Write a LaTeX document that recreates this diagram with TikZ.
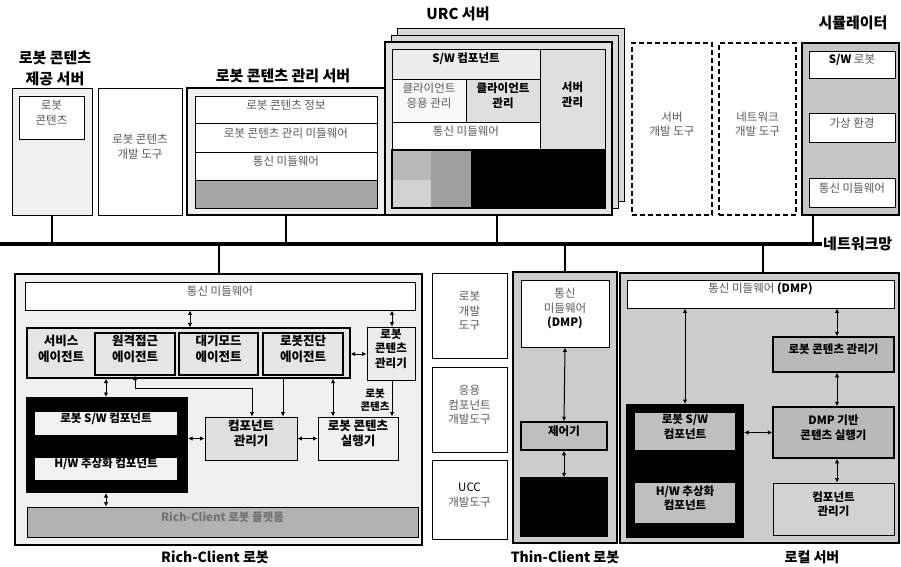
\documentclass[tikz,border=0pt]{standalone}
\usepackage{fontspec}
\setmainfont{Noto Sans CJK KR}
\usetikzlibrary{fit,arrows.meta}
\begin{document}
\begin{tikzpicture}[x=1pt,y=-1pt,
  bx/.style={draw, line width=0.9pt, inner sep=0pt, align=center, font=\fontsize{11.5}{14.5}\selectfont, text=black!65},
  bbx/.style={bx, font=\bfseries\fontsize{11.5}{14.5}\selectfont, text=black},
  agt/.style={font=\bfseries\fontsize{12.5}{15.5}\selectfont},
  ttl/.style={font=\bfseries\fontsize{15}{21}\selectfont, align=center},
  ttls/.style={font=\bfseries\fontsize{14}{17}\selectfont, align=center},
  dsh/.style={draw, line width=1.4pt, dash pattern=on 5pt off 3pt, inner sep=0pt, align=center, font=\fontsize{11.5}{14.5}\selectfont, text=black!65},
  tip/.tip={Latex[length=4.5pt,width=4.5pt]},
  dar/.style={{tip}-{tip}, line width=1pt},
  sar/.style={-{tip}, line width=1pt},
  drop/.style={line width=2pt},
  blk/.style={draw, fill=black, line width=1.2pt, inner sep=0pt},
]
\useasboundingbox (0,0) rectangle (901,566);

% ---------------- titles ----------------
\node[ttl] (t1) at (55,68) {로봇 콘텐츠\\제공 서버};
\node[ttl] (t2) at (283,76) {로봇 콘텐츠 관리 서버};
\node[ttl] (t3) at (458,14) {URC 서버};
\node[ttl] (t4) at (853,23) {시뮬레이터};
\node[ttl, anchor=west, inner sep=1pt] (t5) at (822,244) {네트워크망};
\node[ttls] (t6) at (215,557) {Rich-Client 로봇};
\node[ttls] (t7) at (565,557) {Thin-Client 로봇};
\node[ttls] (t8) at (812,557) {로컬 서버};

% ---------------- network ----------------
\coordinate (netL) at (0,244);
\draw[line width=4pt] (netL) -- (t5.west);

% ---------------- top row ----------------
\node[bx, fill=gray!12, fit={(12,88) (92,215)}] (prov) {};
\node[bx, fill=white, fit={(19,96) (84,139)}] (provc) {로봇\\콘텐츠};
\node[bx, fill=white, fit={(98,88) (182,215)}] (devt) {로봇 콘텐츠\\개발 도구};

\node[bx, fill=gray!12, line width=1.2pt, fit={(187,88) (385,215)}] (mgr) {};
\node[bx, fill=white, fit={(195,96) (377,123)}] (mgr1) {로봇 콘텐츠 정보};
\node[bx, fill=white, fit={(195,123) (377,152)}] (mgr2) {로봇 콘텐츠 관리 미들웨어};
\node[bx, fill=white, fit={(195,152) (377,180)}] (mgr3) {통신 미들웨어};
\node[bx, fill=gray!70, fit={(195,180) (377,208)}] (mgr4) {};

% URC server (stacked pages)
\node[bx, fill=gray!30, fit={(397,28) (624,201)}] (p3) {};
\node[bx, fill=gray!30, fit={(391,35) (618,208)}] (p2) {};
\node[bx, fill=gray!22, line width=1.2pt, fit={(385,42) (612,215)}] (p1) {};
\node[bbx, fill=gray!15, fit={(392,49) (540,79)}] (urcsw) {S/W 컴포넌트};
\node[bbx, fill=gray!25, fit={(540,49) (605,150)}] (urcsrv) {서버\\관리};
\node[bx, fill=gray!5, fit={(392,79) (466,122)}] (urcca) {클라이언트\\응용 관리};
\node[bbx, fill=gray!25, fit={(466,79) (540,122)}] (urccm) {클라이언트\\관리};
\node[bx, fill=white, fit={(392,122) (540,150)}] (urcmw) {통신 미들웨어};
\node[blk, fit={(392,150) (605,208)}] (urcdk) {};
\node[inner sep=0pt, fill=gray!55, fit={(393,151) (431,180)}] (urcg1) {};
\node[inner sep=0pt, fill=gray!35, fit={(393,180) (431,207)}] (urcg2) {};
\node[inner sep=0pt, fill=gray!75, fit={(431,151) (471,207)}] (urcg3) {};

% dashed tool boxes
\node[dsh, fit={(632,43) (712,215)}] (ds1) {서버\\개발 도구};
\node[dsh, fit={(719,43) (796,215)}] (ds2) {네트워크\\개발 도구};

% simulator
\node[bx, fill=gray!45, line width=1.2pt, fit={(802,43) (899,215)}] (sim) {};
\node[bx, fill=white, fit={(809,51) (895,78)}] (sim1) {{\bfseries\color{black}S/W} 로봇};
\node[bx, fill=white, fit={(809,113) (895,142)}] (sim2) {가상 환경};
\node[bx, fill=white, fit={(809,178) (895,207)}] (sim3) {통신 미들웨어};

% drops to network
\coordinate (xurc) at (497,0);
\coordinate (xsim) at (813,0);
\draw[drop] (prov.south) -- (prov.south |- netL);
\draw[drop] (mgr.south) -- (mgr.south |- netL);
\draw[drop] (p1.south -| xurc) -- (netL -| xurc);
\draw[drop] (sim.south -| xsim) -- (netL -| xsim);

% ---------------- Rich-Client robot ----------------
\node[bx, fill=gray!12, line width=1.2pt, fit={(15,274) (422,545)}] (rc) {};
\node[bx, fill=white, fit={(25,282) (415,310)}] (rcbar) {통신 미들웨어};
\node[bx, fill=gray!20, line width=1.2pt, fit={(27,328) (350,378)}] (ag) {};
\node[inner sep=0pt, align=center, agt, fit={(30,333) (92,375)}] (ag0) {서비스\\에이전트};
\node[bbx, fill=gray!20, line width=1.2pt, agt, fit={(95,333) (175,375)}] (ag1) {원격접근\\에이전트};
\node[bbx, fill=gray!20, line width=1.2pt, agt, fit={(179,333) (258,375)}] (ag2) {대기모드\\에이전트};
\node[bbx, fill=gray!20, line width=1.2pt, agt, fit={(263,333) (343,375)}] (ag3) {로봇진단\\에이전트};
\node[bbx, fill=gray!15, fit={(367,327) (415,380)}] (rcm) {로봇\\콘텐츠\\관리기};
\node[bbx, fill=gray!25, agt, fit={(205,417) (297,460)}] (cm) {컴포넌트\\관리기};
\node[bbx, fill=gray!12, agt, fit={(318,417) (398,460)}] (ce) {로봇 콘텐츠\\실행기};
\node[blk, line width=2pt, fit={(27,398) (187,492)}] (blkrc) {};
\node[bbx, fill=gray!10, draw=none, fit={(35,412) (177,435)}] (sw) {로봇 S/W 컴포넌트};
\node[bbx, fill=gray!10, draw=none, fit={(35,458) (177,480)}] (hw) {H/W 추상화 컴포넌트};
\node[bbx, fill=gray!60, text=black!55, fit={(27,507) (418,537)}] (plat) {Rich-Client 로봇 플랫폼};
\node[font=\bfseries\fontsize{10.5}{12.5}\selectfont, align=center, inner sep=0pt] (lbl) at (375,400) {로봇\\콘텐츠};

\coordinate (x106) at (106,0);
\coordinate (x135) at (135,0);
\coordinate (x190) at (190,0);
\coordinate (x283) at (283,0);
\coordinate (x333) at (333,0);
\coordinate (x392) at (392,0);
\coordinate (k1) at (252,388);
\draw[drop] (rc.north) -- (rc.north |- netL);
\draw[dar] (rcbar.south -| x190) -- (ag.north -| x190);
\draw[dar] (rcbar.south -| x392) -- (rcm.north -| x392);
\draw[dar] (ag.east |- ag3.east) -- (rcm.west |- ag3.east);
\draw[dar] (ag.south -| x106) -- (blkrc.north -| x106);
\draw[dar] (ag1.south -| x135) |- (k1) -- (cm.north -| k1);
\draw[sar] (ag.south -| x283) -- (cm.north -| x283);
\draw[dar] (ag.south -| x333) -- (ce.north -| x333);
\draw[sar] (rcm.south -| x392) -- (ce.north -| x392);
\draw[dar] (blkrc.east |- cm.west) -- (cm.west);
\draw[dar] (cm.east) -- (ce.west);
\draw[dar] (blkrc.south -| x106) -- (plat.north -| x106);

% ---------------- middle tools ----------------
\node[bx, fill=white, fit={(432,273) (507,358)}] (md1) {로봇\\개발\\도구};
\node[bx, fill=white, fit={(432,367) (507,452)}] (md2) {응용\\컴포넌트\\개발도구};
\node[bx, fill=white, fit={(432,460) (507,539)}] (md3) {{\color{black}UCC}\\개발도구};

% ---------------- Thin-Client robot ----------------
\node[bx, fill=gray!40, line width=2pt, fit={(513,272) (617,543)}] (tc) {};
\node[bx, fill=white, fit={(521,280) (609,347)}] (tcdmp) {통신\\미들웨어\\{\bfseries\color{black}(DMP)}};
\node[bbx, fill=gray!50, line width=1.5pt, fit={(521,422) (607,450)}] (tcctl) {제어기};
\node[blk, fit={(521,478) (607,536)}] (tcblk) {};
\draw[drop] (tc.north) -- (tc.north |- netL);
\draw[dar] (tcdmp.south) -- (tcctl.north);
\draw[dar] (tcctl.south) -- (tcblk.north);

% ---------------- local server ----------------
\node[bx, fill=gray!40, line width=1.2pt, fit={(620,273) (899,543)}] (ls) {};
\node[bx, fill=white, fit={(627,280) (894,308)}] (lsdmp) {통신 미들웨어 {\bfseries\color{black}(DMP)}};
\node[bbx, fill=gray!55, line width=1.5pt, fit={(773,337) (894,372)}] (lscm) {로봇 콘텐츠 관리기};
\node[bbx, fill=gray!55, line width=1.5pt, fit={(773,407) (894,458)}] (lsce) {DMP 기반\\콘텐츠 실행기};
\node[bbx, fill=gray!35, fit={(773,483) (894,535)}] (lscomp) {컴포넌트\\관리기};
\node[blk, line width=2pt, fit={(627,405) (743,537)}] (lsblk) {};
\node[bbx, fill=gray!50, draw=none, fit={(635,413) (735,450)}] (lssw) {로봇 S/W\\컴포넌트};
\node[bbx, fill=gray!50, draw=none, fit={(635,483) (735,523)}] (lshw) {H/W 추상화\\컴포넌트};

\coordinate (x685) at (685,0);
\coordinate (x837) at (837,0);
\coordinate (x763) at (763,0);
\draw[drop] (ls.north -| x763) -- (netL -| x763);
\draw[dar] (lsdmp.south -| x685) -- (lsblk.north -| x685);
\draw[dar] (lsdmp.south -| x837) -- (lscm.north -| x837);
\draw[dar] (lscm.south -| x837) -- (lsce.north -| x837);
\draw[dar] (lsce.south -| x837) -- (lscomp.north -| x837);
\draw[dar] (lsblk.east |- lsce.west) -- (lsce.west);
\end{tikzpicture}
\end{document}
